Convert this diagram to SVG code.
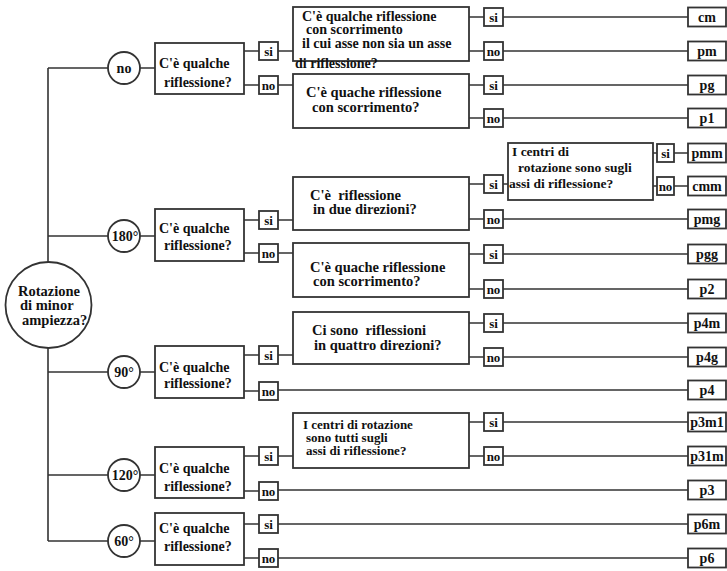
<svg xmlns="http://www.w3.org/2000/svg" width="727" height="571" viewBox="0 0 727 571">
<style>
.ln{stroke:#333;stroke-width:1.6;fill:none}
.bx{fill:#fff;stroke:#333;stroke-width:1.8}
text{font-family:"Liberation Serif","Times New Roman",serif;font-weight:bold;fill:#111}
.q{font-size:14px}
.t{font-size:14.5px}
.ta{font-size:14px}
.s{font-size:13.5px}
.g{font-size:13px}
.c{font-size:14px;text-anchor:middle}
.yn{font-size:13px;text-anchor:middle}
.o{font-size:14px;text-anchor:middle}
</style>
<rect width="727" height="571" fill="#fff"/>
<g id="connectors" class="ln">
<path d="M48,68V541M48,68H108M48,236H108M48,372H108M48,475H108M48,541H108"/>
<path d="M140,68H155M140,236H155M140,372H155M140,475H155M140,541H155"/>
<path d="M244,51H259M278,51H293M244,85H259M278,85H293"/>
<path d="M244,220H259M278,220H293M244,253H259M278,253H293"/>
<path d="M244,355H259M278,355H293M244,391H259M278,390H688"/>
<path d="M244,456H259M278,456H293M244,491H259M278,490H688"/>
<path d="M244,524H259M278,524H688M244,558H259M278,558H688"/>
<path d="M469,17H484M503,17H688M469,51H484M503,51H688"/>
<path d="M469,85H484M503,85H688M469,118H484M503,118H688"/>
<path d="M469,184H484M503,184H508M469,219H484M503,219H688"/>
<path d="M653,153H657M674,153H688M653,186H657M674,186H688"/>
<path d="M469,254H484M503,254H688M469,289H484M503,289H688"/>
<path d="M469,323H484M503,323H688M469,357H484M503,357H688"/>
<path d="M469,422H484M503,422H688M469,456H484M503,456H688"/>
</g>
<g id="root"><circle class="bx" cx="48.5" cy="305" r="43"/>
<text class="t" x="18" y="296">Rotazione</text><text class="t" x="20" y="310">di minor</text><text class="t" x="22" y="325">ampiezza?</text></g>
<g id="c-no"><circle class="bx" cx="124" cy="68" r="16"/><text class="c" x="124" y="72.5">no</text></g>
<g id="c-180"><circle class="bx" cx="124" cy="236" r="16"/><text class="c" x="125" y="241">180°</text></g>
<g id="c-90"><circle class="bx" cx="124" cy="372" r="16"/><text class="c" x="124" y="377">90°</text></g>
<g id="c-120"><circle class="bx" cx="124" cy="475" r="16"/><text class="c" x="125" y="480">120°</text></g>
<g id="c-60"><circle class="bx" cx="124" cy="541" r="16"/><text class="c" x="124" y="546">60°</text></g>
<g id="q1"><rect class="bx" x="155" y="43" width="89" height="51"/><text class="q" x="159" y="68">C'è qualche</text><text class="q" x="164" y="87">riflessione?</text></g>
<g id="q2"><rect class="bx" x="155" y="209" width="89" height="52"/><text class="q" x="159" y="233">C'è qualche</text><text class="q" x="164" y="250">riflessione?</text></g>
<g id="q3"><rect class="bx" x="155" y="346" width="89" height="52"/><text class="q" x="159" y="372">C'è qualche</text><text class="q" x="164" y="388">riflessione?</text></g>
<g id="q4"><rect class="bx" x="155" y="447" width="89" height="51"/><text class="q" x="159" y="473">C'è qualche</text><text class="q" x="164" y="491">riflessione?</text></g>
<g id="q5"><rect class="bx" x="155" y="513" width="89" height="52"/><text class="q" x="159" y="533">C'è qualche</text><text class="q" x="164" y="551">riflessione?</text></g>
<g id="boxA"><rect class="bx" x="293" y="7" width="176" height="54"/><text class="ta" x="302" y="21">C'è qualche riflessione</text><text class="ta" x="306" y="34">con scorrimento</text><text class="ta" x="302" y="48">il cui asse non sia un asse</text><text class="ta" x="295" y="68">di riflessione?</text></g>
<g id="boxB"><rect class="bx" x="293" y="74" width="176" height="54"/><text class="t" x="306" y="97">C'è quache riflessione</text><text class="t" x="312" y="112">con scorrimento?</text></g>
<g id="boxC"><rect class="bx" x="508" y="143" width="145" height="57"/><text class="s" x="512" y="156">I centri di</text><text class="s" x="518" y="172">rotazione sono sugli</text><text class="s" x="509" y="188">assi di riflessione?</text></g>
<g id="boxD"><rect class="bx" x="293" y="177" width="176" height="53"/><text class="t" x="310" y="200" xml:space="preserve">C'è  riflessione</text><text class="t" x="313" y="214">in due direzioni?</text></g>
<g id="boxE"><rect class="bx" x="293" y="243" width="176" height="54"/><text class="t" x="310" y="272">C'è quache riflessione</text><text class="t" x="313" y="286">con scorrimento?</text></g>
<g id="boxF"><rect class="bx" x="293" y="312" width="176" height="52"/><text class="t" x="312" y="335" xml:space="preserve">Ci sono  riflessioni</text><text class="t" x="314" y="350">in quattro direzioni?</text></g>
<g id="boxG"><rect class="bx" x="293" y="413" width="176" height="55"/><text class="g" x="303" y="429">I centri di rotazione</text><text class="g" x="306" y="442">sono tutti sugli</text><text class="g" x="306" y="455">assi di riflessione?</text></g>
<g id="yn1">
<rect class="bx" x="259" y="42" width="19" height="18"/><text class="yn" x="268.5" y="55.5">si</text>
<rect class="bx" x="259" y="76" width="19" height="18"/><text class="yn" x="268.5" y="89.5">no</text>
<rect class="bx" x="259" y="211" width="19" height="18"/><text class="yn" x="268.5" y="224.5">si</text>
<rect class="bx" x="259" y="244" width="19" height="18"/><text class="yn" x="268.5" y="257.5">no</text>
<rect class="bx" x="259" y="346" width="19" height="18"/><text class="yn" x="268.5" y="359.5">si</text>
<rect class="bx" x="259" y="382" width="19" height="18"/><text class="yn" x="268.5" y="395.5">no</text>
<rect class="bx" x="259" y="447" width="19" height="18"/><text class="yn" x="268.5" y="460.5">si</text>
<rect class="bx" x="259" y="482" width="19" height="18"/><text class="yn" x="268.5" y="495.5">no</text>
<rect class="bx" x="259" y="515" width="19" height="18"/><text class="yn" x="268.5" y="528.5">si</text>
<rect class="bx" x="259" y="549" width="19" height="18"/><text class="yn" x="268.5" y="562.5">no</text>
</g>
<g id="yn2">
<rect class="bx" x="484" y="8" width="19" height="18"/><text class="yn" x="493.5" y="21.5">si</text>
<rect class="bx" x="484" y="42" width="19" height="18"/><text class="yn" x="493.5" y="55.5">no</text>
<rect class="bx" x="484" y="76" width="19" height="18"/><text class="yn" x="493.5" y="89.5">si</text>
<rect class="bx" x="484" y="109" width="19" height="18"/><text class="yn" x="493.5" y="122.5">no</text>
<rect class="bx" x="484" y="175" width="19" height="18"/><text class="yn" x="493.5" y="188.5">si</text>
<rect class="bx" x="484" y="210" width="19" height="18"/><text class="yn" x="493.5" y="223.5">no</text>
<rect class="bx" x="484" y="245" width="19" height="18"/><text class="yn" x="493.5" y="258.5">si</text>
<rect class="bx" x="484" y="280" width="19" height="18"/><text class="yn" x="493.5" y="293.5">no</text>
<rect class="bx" x="484" y="314" width="19" height="18"/><text class="yn" x="493.5" y="327.5">si</text>
<rect class="bx" x="484" y="348" width="19" height="18"/><text class="yn" x="493.5" y="361.5">no</text>
<rect class="bx" x="484" y="413" width="19" height="18"/><text class="yn" x="493.5" y="426.5">si</text>
<rect class="bx" x="484" y="447" width="19" height="18"/><text class="yn" x="493.5" y="460.5">no</text>
<rect class="bx" x="657" y="144" width="17" height="18"/><text class="yn" x="665.5" y="157.5">si</text>
<rect class="bx" x="657" y="177" width="17" height="18"/><text class="yn" x="665.5" y="190.5">no</text>
</g>
<g id="outputs">
<rect class="bx" x="688" y="7.5" width="38" height="19"/><text class="o" x="707" y="22">cm</text>
<rect class="bx" x="688" y="41.5" width="38" height="19"/><text class="o" x="707" y="56">pm</text>
<rect class="bx" x="688" y="75.5" width="38" height="19"/><text class="o" x="707" y="90">pg</text>
<rect class="bx" x="688" y="108.5" width="38" height="19"/><text class="o" x="707" y="123">p1</text>
<rect class="bx" x="688" y="143.5" width="38" height="19"/><text class="o" x="707" y="158">pmm</text>
<rect class="bx" x="688" y="176.5" width="38" height="19"/><text class="o" x="707" y="191">cmm</text>
<rect class="bx" x="688" y="209.5" width="38" height="19"/><text class="o" x="707" y="224">pmg</text>
<rect class="bx" x="688" y="244.5" width="38" height="19"/><text class="o" x="707" y="259">pgg</text>
<rect class="bx" x="688" y="279.5" width="38" height="19"/><text class="o" x="707" y="294">p2</text>
<rect class="bx" x="688" y="313.5" width="38" height="19"/><text class="o" x="707" y="328">p4m</text>
<rect class="bx" x="688" y="347.5" width="38" height="19"/><text class="o" x="707" y="362">p4g</text>
<rect class="bx" x="688" y="380.5" width="38" height="19"/><text class="o" x="707" y="395">p4</text>
<rect class="bx" x="688" y="412.5" width="38" height="19"/><text class="o" x="707" y="427">p3m1</text>
<rect class="bx" x="688" y="446.5" width="38" height="19"/><text class="o" x="707" y="461">p31m</text>
<rect class="bx" x="688" y="480.5" width="38" height="19"/><text class="o" x="707" y="495">p3</text>
<rect class="bx" x="688" y="514.5" width="38" height="19"/><text class="o" x="707" y="529">p6m</text>
<rect class="bx" x="688" y="548.5" width="38" height="19"/><text class="o" x="707" y="563">p6</text>
</g>
</svg>
